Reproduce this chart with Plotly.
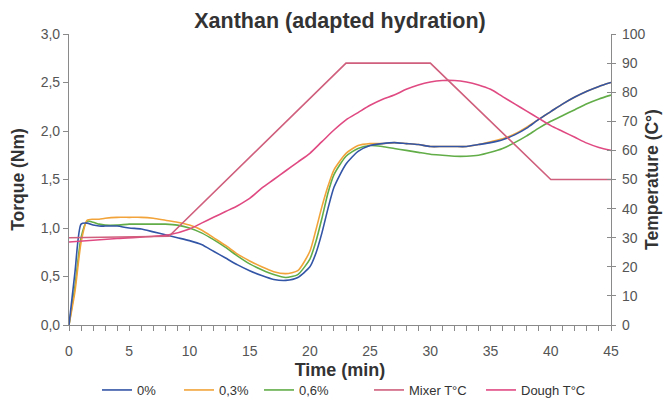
import plotly.graph_objects as go

# ---------------- data ----------------
time_min = [0, 0.5, 1, 1.5, 2, 2.5, 3, 4, 5, 6, 7, 8, 9, 10, 11, 12, 13, 14, 15, 16, 17, 18, 19, 20,
            20.5, 21, 21.5, 22, 23, 24, 25, 26, 27, 28, 29, 30, 31, 32, 33, 34, 35, 36, 37, 38, 39,
            40, 41, 42, 43, 44, 45]

torque_0 = [0, 0.55, 1.04, 1.05, 1.03, 1.02, 1.02, 1.02, 1.0, 0.99, 0.96, 0.93, 0.9, 0.87, 0.83,
            0.76, 0.69, 0.62, 0.56, 0.51, 0.47, 0.46, 0.49, 0.6,
            0.74, 0.95, 1.2, 1.42, 1.66, 1.79, 1.85, 1.87, 1.88, 1.87, 1.86, 1.84, 1.84, 1.84, 1.84,
            1.86, 1.88, 1.91, 1.96, 2.03, 2.12, 2.2, 2.28, 2.35, 2.41, 2.46, 2.5]

torque_03 = [0, 0.35, 0.85, 1.08, 1.09, 1.09, 1.1, 1.11, 1.11, 1.11, 1.1, 1.08, 1.06, 1.03, 0.98,
             0.9, 0.82, 0.73, 0.66, 0.6, 0.55, 0.53, 0.56, 0.76,
             0.98, 1.22, 1.43, 1.6, 1.77, 1.85, 1.87, 1.87, 1.88, 1.87, 1.86, 1.84, 1.84, 1.84, 1.84,
             1.86, 1.89, 1.92, 1.97, 2.04, 2.12, 2.2, 2.28, 2.35, 2.41, 2.46, 2.5]

torque_06 = [0, 0.4, 0.9, 1.07, 1.06, 1.04, 1.03, 1.03, 1.04, 1.04, 1.04, 1.04, 1.03, 1.0, 0.95,
             0.88, 0.8, 0.71, 0.63, 0.57, 0.52, 0.49, 0.52, 0.68,
             0.86, 1.1, 1.36, 1.55, 1.74, 1.82, 1.85, 1.84, 1.82, 1.8, 1.78, 1.76, 1.75, 1.74, 1.74,
             1.75, 1.78, 1.82, 1.88, 1.95, 2.03, 2.1, 2.16, 2.22, 2.28, 2.33, 2.37]

mixer_time = [0, 8.3, 23, 30, 40, 45]
mixer_temp = [30, 30.5, 90, 90, 50, 50]

dough_time = [0, 4, 8.3, 10, 11, 12, 13, 14, 15, 16, 17, 18, 19, 20, 21, 22, 23, 24, 25, 26, 27, 28,
              29, 30, 31, 32, 33, 34, 35, 36, 37, 38, 39, 40, 41, 42, 43, 44, 45]
dough_temp = [28.5, 29.7, 31, 33, 35, 37, 39, 41, 43.5, 47, 50, 53, 56, 59, 63, 67, 70.5, 73, 75.5,
              77.5, 79, 81, 82.5, 83.5, 84, 84, 83.5, 82.5, 81, 78.5, 76, 73.5, 71, 68.5, 66.5,
              64.5, 62.5, 61, 60]

torque_ticks = [0, 0.5, 1.0, 1.5, 2.0, 2.5, 3.0]
torque_labels = ["0,0", "0,5", "1,0", "1,5", "2,0", "2,5", "3,0"]
time_ticks = [0, 5, 10, 15, 20, 25, 30, 35, 40, 45]
temp_ticks = [0, 10, 20, 30, 40, 50, 60, 70, 80, 90, 100]

# ---------------- figure ----------------
FONT = "Liberation Sans, Arial, sans-serif"
AX = "#8a8a8a"
TXT = "#333333"
TICKFONT = dict(family=FONT, size=14, color="#555555")

L, R, T, B = 69, 54, 34, 81
W, H = 665, 406
PW = W - L - R


def lx(px):
    return (px - L) / PW


fig = go.Figure()

fig.add_trace(go.Scatter(x=dough_time, y=dough_temp, name="Dough T°C", yaxis="y2",
                         mode="lines", legend="legend5",
                         line=dict(color="#e04a82", width=1.6, shape="spline", smoothing=0.8)))
fig.add_trace(go.Scatter(x=mixer_time, y=mixer_temp, name="Mixer T°C", yaxis="y2",
                         mode="lines", legend="legend4",
                         line=dict(color="#cf5f7c", width=1.6)))
fig.add_trace(go.Scatter(x=time_min, y=torque_06, name="0,6%", mode="lines", legend="legend3",
                         line=dict(color="#62ad48", width=1.6, shape="spline", smoothing=0.6)))
fig.add_trace(go.Scatter(x=time_min, y=torque_03, name="0,3%", mode="lines", legend="legend2",
                         line=dict(color="#f2a43a", width=1.6, shape="spline", smoothing=0.6)))
fig.add_trace(go.Scatter(x=time_min, y=torque_0, name="0%", mode="lines", legend="legend",
                         line=dict(color="#3355a6", width=1.6, shape="spline", smoothing=0.6)))
# helper trace so the inner tick marks of the right axis are drawn
fig.add_trace(go.Scatter(x=[None], y=[None], yaxis="y3", showlegend=False, hoverinfo="skip"))

leg_common = dict(orientation="h", y=(H - B - 390) / (H - T - B), yanchor="middle",
                  xanchor="left", font=dict(family=FONT, size=13, color=TXT),
                  bgcolor="rgba(0,0,0,0)", borderwidth=0)
legend_px = [97, 179, 259, 369, 481]

fig.update_layout(
    width=W, height=H,
    margin=dict(l=L, r=R, t=T, b=B, autoexpand=False),
    paper_bgcolor="white", plot_bgcolor="white",
    font=dict(family=FONT, color=TXT),
    title=dict(text="<b>Xanthan (adapted hydration)</b>", x=340 / W, xanchor="center",
               y=1 - 20 / H, yanchor="middle", font=dict(family=FONT, size=21.5, color=TXT)),
    xaxis=dict(range=[0, 45], tickvals=time_ticks,
               showgrid=False, zeroline=False, showline=True, linecolor=AX, linewidth=1.2,
               ticks="outside", ticklen=5, tickcolor=AX, tickfont=TICKFONT, ticklabelstandoff=8,
               minor=dict(ticks="outside", dtick=1, ticklen=5, tickcolor=AX),
               automargin=False,
               title=dict(text="<b>Time (min)</b>", font=dict(family=FONT, size=18, color=TXT),
                          standoff=5)),
    yaxis=dict(range=[0, 3.0], tickvals=torque_ticks, ticktext=torque_labels,
               showgrid=False, zeroline=False, showline=True, linecolor=AX, linewidth=1.2,
               ticks="outside", ticklen=5, tickcolor=AX, tickfont=TICKFONT,
               automargin=False,
               title=dict(text="<b>Torque (Nm)</b>", font=dict(family=FONT, size=17.5, color=TXT),
                          standoff=11)),
    yaxis2=dict(range=[0, 100], tickvals=temp_ticks, overlaying="y", side="right",
                showgrid=False, zeroline=False, showline=True, linecolor=AX, linewidth=1.2,
                ticks="outside", ticklen=4, tickcolor=AX, tickfont=TICKFONT, ticklabelstandoff=3,
                automargin=False,
                title=dict(text="<b>Temperature (C°)</b>",
                           font=dict(family=FONT, size=17.5, color=TXT), standoff=1)),
    yaxis3=dict(range=[0, 100], tickvals=temp_ticks, overlaying="y", side="right",
                showgrid=False, zeroline=False, showline=False, showticklabels=False,
                ticks="inside", ticklen=4, tickcolor=AX, automargin=False),
    legend=dict(x=lx(legend_px[0]), **leg_common),
    legend2=dict(x=lx(legend_px[1]), **leg_common),
    legend3=dict(x=lx(legend_px[2]), **leg_common),
    legend4=dict(x=lx(legend_px[3]), **leg_common),
    legend5=dict(x=lx(legend_px[4]), **leg_common),
    showlegend=True,
)

fig.write_html("out.html", config={"displayModeBar": False},
               post_script="document.body.style.margin='0';")
